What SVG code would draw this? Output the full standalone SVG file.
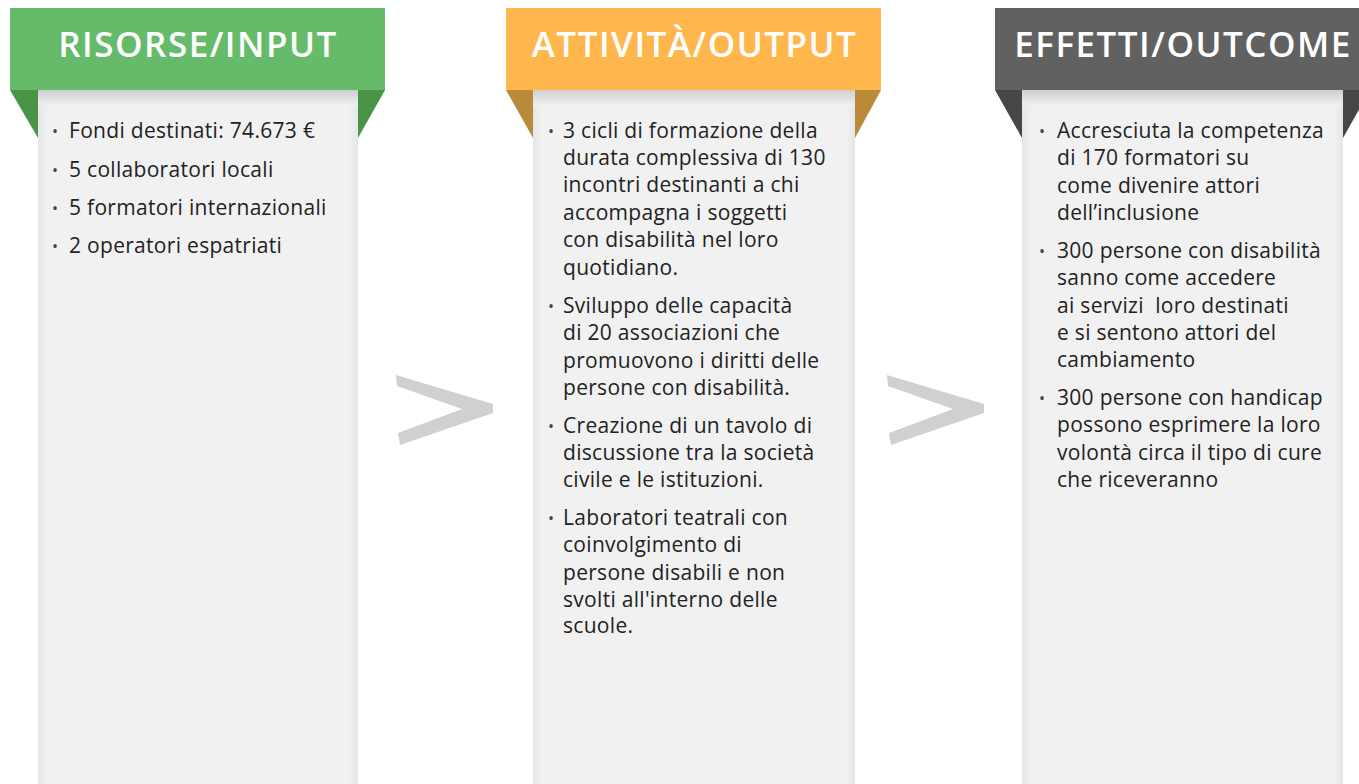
<svg xmlns="http://www.w3.org/2000/svg" width="1359" height="784" viewBox="0 0 1359 784">
<defs>
<linearGradient id="topShade" x1="0" y1="0" x2="0" y2="1">
<stop offset="0" stop-color="#cfcfcf"/>
<stop offset="1" stop-color="#f1f1f1"/>
</linearGradient>
<linearGradient id="sideShade" x1="0" y1="0" x2="1" y2="0">
<stop offset="0" stop-color="#e6e6e6"/>
<stop offset="0.03" stop-color="#f1f1f1"/>
<stop offset="0.97" stop-color="#f1f1f1"/>
<stop offset="1" stop-color="#e6e6e6"/>
</linearGradient>
<polygon id="chev" points="396,375 493,404 493,413 400,445 398,433 462,409 397,386"/>
</defs>
<style>
.panel{fill:url(#sideShade)}
.shade{fill:url(#topShade)}
.title{font-family:"Open Sans","Liberation Sans",sans-serif;font-weight:600;font-size:35px;letter-spacing:1.5px;fill:#ffffff;text-anchor:middle}
.t{font-family:"Open Sans","Liberation Sans",sans-serif;font-size:21px;letter-spacing:0.3px;fill:#222222}
.b{font-family:"Open Sans","Liberation Sans",sans-serif;font-size:16px;fill:#444444}
.arrow{fill:#d0d0d0}
</style>
<rect width="1359" height="784" fill="#ffffff"/>

<g id="risorse">
<rect class="panel" x="38" y="90" width="320" height="694"/>
<rect class="shade" x="38" y="90" width="320" height="16"/>
<polygon points="10,90 38,90 38,138" fill="#4a9448"/>
<polygon points="358,90 385,90 358,138" fill="#4a9448"/>
<rect x="10" y="8" width="375" height="82" fill="#66bb6a"/>
<text class="title" x="198" y="57">RISORSE/INPUT</text>
<text class="b" x="52" y="137">•</text><text class="t" x="69" y="138">Fondi destinati: 74.673 €</text>
<text class="b" x="52" y="176">•</text><text class="t" x="69" y="177">5 collaboratori locali</text>
<text class="b" x="52" y="214">•</text><text class="t" x="69" y="215">5 formatori internazionali</text>
<text class="b" x="52" y="252">•</text><text class="t" x="69" y="253">2 operatori espatriati</text>
</g>

<g id="attivita">
<rect class="panel" x="533" y="90" width="322" height="694"/>
<rect class="shade" x="533" y="90" width="322" height="16"/>
<polygon points="506,90 533,90 533,138" fill="#b98a3a"/>
<polygon points="855,90 881,90 855,138" fill="#b98a3a"/>
<rect x="506" y="8" width="375" height="82" fill="#ffb74d"/>
<text class="title" x="694.5" y="57">ATTIVITÀ/OUTPUT</text>
<text class="b" x="548" y="137">•</text>
<text class="t" x="563" y="138">3 cicli di formazione della</text>
<text class="t" x="563" y="165">durata complessiva di 130</text>
<text class="t" x="563" y="192">incontri destinanti a chi</text>
<text class="t" x="563" y="220">accompagna i soggetti</text>
<text class="t" x="563" y="247">con disabilità nel loro</text>
<text class="t" x="563" y="275">quotidiano.</text>
<text class="b" x="548" y="312">•</text>
<text class="t" x="563" y="313">Sviluppo delle capacità</text>
<text class="t" x="563" y="340">di 20 associazioni che</text>
<text class="t" x="563" y="368">promuovono i diritti delle</text>
<text class="t" x="563" y="395">persone con disabilità.</text>
<text class="b" x="548" y="432">•</text>
<text class="t" x="563" y="433">Creazione di un tavolo di</text>
<text class="t" x="563" y="460">discussione tra la società</text>
<text class="t" x="563" y="487">civile e le istituzioni.</text>
<text class="b" x="548" y="524">•</text>
<text class="t" x="563" y="525">Laboratori teatrali con</text>
<text class="t" x="563" y="552">coinvolgimento di</text>
<text class="t" x="563" y="580">persone disabili e non</text>
<text class="t" x="563" y="607">svolti all'interno delle</text>
<text class="t" x="563" y="633">scuole.</text>
</g>

<g id="effetti">
<rect class="panel" x="1022" y="90" width="321" height="694"/>
<rect class="shade" x="1022" y="90" width="321" height="16"/>
<polygon points="995,90 1022,90 1022,138" fill="#474747"/>
<polygon points="1343,90 1370,90 1343,138" fill="#474747"/>
<rect x="995" y="8" width="375" height="82" fill="#616161"/>
<text class="title" x="1183" y="57">EFFETTI/OUTCOME</text>
<text class="b" x="1039" y="137">•</text>
<text class="t" x="1057" y="138">Accresciuta la competenza</text>
<text class="t" x="1057" y="165">di 170 formatori su</text>
<text class="t" x="1057" y="193">come divenire attori</text>
<text class="t" x="1057" y="220">dell’inclusione</text>
<text class="b" x="1039" y="257">•</text>
<text class="t" x="1057" y="258">300 persone con disabilità</text>
<text class="t" x="1057" y="285">sanno come accedere</text>
<text class="t" x="1057" y="313" xml:space="preserve">ai servizi  loro destinati</text>
<text class="t" x="1057" y="340">e si sentono attori del</text>
<text class="t" x="1057" y="367">cambiamento</text>
<text class="b" x="1039" y="404">•</text>
<text class="t" x="1057" y="405">300 persone con handicap</text>
<text class="t" x="1057" y="432">possono esprimere la loro</text>
<text class="t" x="1057" y="460">volontà circa il tipo di cure</text>
<text class="t" x="1057" y="487">che riceveranno</text>
</g>

<g id="connectors">
<use href="#chev" class="arrow"/>
<use href="#chev" class="arrow" transform="translate(491,0)"/>
</g>
</svg>
